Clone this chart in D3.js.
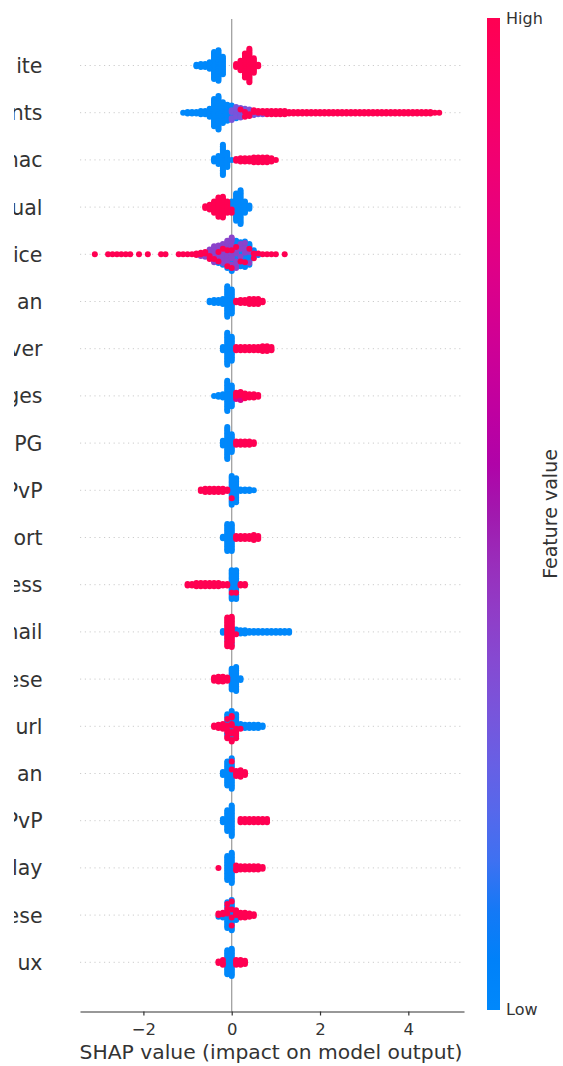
<!DOCTYPE html>
<html>
<head>
<meta charset="utf-8">
<script src="https://cdn.jsdelivr.net/npm/d3@7"></script>
<style>
  html, body { margin: 0; padding: 0; background: #fff; }
  svg { display: block; font-family: "DejaVu Sans", sans-serif; }
</style>
</head>
<body>
<svg id="chart" width="563" height="1066"></svg>
<script>
// Feature names, top to bottom (ordered by mean |SHAP value|)
const features = ["ite", "nts", "mac", "ual", "ice", "an", "ver", "ges", "PG", "PvP",
                  "ort", "ess", "mail", "ese", "url", "an", "PvP", "lay", "ese", "ux"];

// Beeswarm histogram: centre of the first SHAP bin for each feature, bin width 0.1
const binWidth = 0.1;
const binStart = [-0.8, -1.1, -0.4, -0.6, -3.1, -0.5, -0.2, -0.4, -0.2, -0.7,
                  -0.2, -1.0, -0.2, -0.4, -0.4, -0.2, -0.2, -0.3, -0.3, -0.3];

// Number of samples per bin with a low feature value
const lowCounts = [
  [2, 3, 3, 5, 18, 20, 12],
  [1, 2, 2, 2, 3, 3, 6, 18, 22, 14, 11, 6, 3, 1],
  [3, 6, 20, 10, 1],
  [0, 0, 0, 0, 0, 0, 6, 18, 22, 8, 3],
  [0, 0, 0, 0, 0, 0, 0, 0, 0, 0, 0, 0, 0, 0, 0, 0, 0, 0, 0, 0, 0, 0, 0, 0, 0, 0, 0,
   2, 3, 4, 6, 9, 12, 12, 13, 11, 4, 1],
  [2, 3, 3, 4, 20, 16],
  [3, 21, 16],
  [1, 2, 3, 20, 14],
  [4, 21, 12],
  [0, 0, 0, 0, 0, 0, 0, 18, 16, 2, 2, 2, 1],
  [2, 18, 18],
  [0, 0, 0, 0, 0, 0, 0, 0, 0, 0, 18, 18],
  [2, 1, 2, 3, 3, 3, 2, 2, 2, 2, 2, 2, 2, 2, 2, 2],
  [0, 0, 0, 0, 14, 16, 2],
  [0, 0, 1, 10, 12, 12, 3, 3, 3, 3, 3, 2],
  [3, 16, 18],
  [3, 14, 20],
  [0, 0, 16, 20, 1],
  [1, 2, 14, 16, 3],
  [0, 1, 16, 18]
];

// Number of samples per bin with a middling feature value
const midCounts = [
  [],
  [0, 0, 0, 0, 0, 0, 0, 0, 0, 0, 0, 4, 5, 5, 4, 3, 2, 1, 1],
  [],
  [],
  [0, 0, 0, 0, 0, 0, 0, 0, 0, 0, 0, 0, 0, 0, 0, 0, 0, 0, 0, 0, 0, 0, 0, 0,
   1, 2, 5, 8, 7, 9, 10, 11, 5, 3, 3, 2],
  [],
  [],
  [0, 0, 0, 0, 0, 2, 3, 1],
  [], [], [], [], [], [], [], [], [], [], [], []
];

// Feature value used for the middling samples of each feature (0 = low, 1 = high)
const midValue = [0.5, 0.3, 0.5, 0.5, 0.38, 0.5, 0.5, 0.75, 0.5, 0.5,
                  0.5, 0.5, 0.5, 0.5, 0.5, 0.5, 0.5, 0.5, 0.5, 0.5];

// Number of samples per bin with a high feature value
const highCounts = [
  [0, 0, 0, 0, 0, 0, 0, 0, 0, 3, 7, 16, 22, 10, 2],
  [0, 0, 0, 0, 0, 0, 0, 0, 0, 0, 0, 0, 0, 1, 2, 2, 2, 2, 2,
   3, 3, 3, 3, 3, 2, 2, 2, 2, 2, 2, 2, 2, 2, 2, 2, 2, 2, 2, 2,
   2, 2, 2, 2, 2, 2, 2, 2, 2, 2, 2, 2, 2, 2, 2, 2, 2, 2, 1, 1],
  [0, 0, 0, 0, 0, 2, 3, 3, 3, 4, 4, 4, 4, 3, 1],
  [2, 4, 8, 13, 14, 8, 2],
  [1, 0, 0, 1, 1, 1, 1, 1, 1, 0, 1, 0, 1, 0, 0, 1, 1, 0, 0, 1, 1, 1, 1, 2,
   2, 2, 2, 1, 2, 1, 2, 2, 1, 1, 1, 1, 2, 1, 1, 1, 1, 1, 0, 1],
  [0, 0, 0, 0, 0, 0, 2, 3, 3, 4, 4, 4, 2],
  [0, 0, 0, 3, 3, 3, 3, 3, 3, 4, 4, 3],
  [0, 0, 0, 0, 0, 3, 3, 3, 3, 3, 2],
  [0, 0, 0, 3, 3, 3, 3, 2],
  [2, 3, 3, 3, 3, 3, 2, 1],
  [0, 0, 0, 3, 3, 3, 3, 4, 3],
  [2, 2, 3, 3, 3, 3, 3, 3, 2, 2, 1, 1, 2, 2],
  [0, 18, 18, 1],
  [3, 4, 4, 3],
  [2, 3, 3, 6, 8, 4, 1],
  [0, 0, 2, 4, 5, 3],
  [0, 0, 0, 0, 3, 3, 3, 3, 3, 3, 3],
  [1, 0, 0, 0, 3, 3, 3, 3, 3, 3, 2],
  [2, 2, 3, 4, 4, 4, 4, 3, 2],
  [2, 3, 0, 0, 4, 4, 3]
];

const xTicks = [-2, 0, 2, 4];
const xDomain = [-3.436, 5.261];
const xTitle = "SHAP value (impact on model output)";
const colorbarLabels = { high: "High", low: "Low", title: "Feature value" };

// ---------------------------------------------------------------------------
const W = 563, H = 1066;
const plot = { left: 80, right: 464, top: 19, bottom: 1011.5 };
const dotR = 3, stackStep = 1.6;
const textColor = "#333333";

const svg = d3.select("#chart");
svg.append("rect").attr("width", W).attr("height", H).attr("fill", "#fff");

const x = d3.scaleLinear().domain(xDomain).range([plot.left, plot.right]);
const y = d3.scalePoint().domain(d3.range(features.length)).range([65.5, 962.3]);

// Red-blue colormap interpolated in LCh space (blue -> purple -> red)
function featureColor(v) {
  v = Math.max(0, Math.min(1, v));
  const l = v < 0.5 ? 54 + (40 - 54) * (v / 0.5) : 40 + (54 - 40) * ((v - 0.5) / 0.5);
  const c = 70 + 20 * v;
  const h = 266.93 + (380.32 - 266.93) * v;
  return d3.hcl(h % 360, c, l).formatHex();
}

// Light dotted guide for every feature row
svg.append("g").selectAll("line").data(d3.range(features.length)).join("line")
  .attr("x1", plot.left).attr("x2", plot.right)
  .attr("y1", d => y(d)).attr("y2", d => y(d))
  .attr("stroke", "#cccccc").attr("stroke-width", 1)
  .attr("stroke-dasharray", "1.2,3.6");

// Vertical reference line at SHAP = 0
svg.append("line")
  .attr("x1", x(0)).attr("x2", x(0))
  .attr("y1", plot.top).attr("y2", plot.bottom)
  .attr("stroke", "#999999").attr("stroke-width", 1.2);

// Build the stacked dots of each bin; colours are spread evenly through the stack
const groups = [
  { counts: lowCounts, value: () => 0 },
  { counts: midCounts, value: i => midValue[i] },
  { counts: highCounts, value: () => 1 }
];
const dots = [];
features.forEach((f, i) => {
  const nBins = d3.max(groups, g => g.counts[i].length);
  for (let b = 0; b < nBins; b++) {
    const shap = binStart[i] + b * binWidth;
    const seq = [];
    groups.forEach((g, gi) => {
      const n = g.counts[i][b] || 0;
      for (let k = 0; k < n; k++) seq.push({ gi, key: (k + 0.5) / n, v: g.value(i) });
    });
    seq.sort((a, c) => a.key - c.key || a.gi - c.gi);
    const n = seq.length;
    const slots = d3.range(n).map(j => j - (n - 1) / 2)
      .sort((a, c) => Math.abs(a) - Math.abs(c) || c - a);
    seq.forEach((d, j) => dots.push({ row: i, shap, slot: slots[j], gi: d.gi, v: d.v }));
  }
});
dots.sort((a, c) => a.gi - c.gi);

svg.append("g").selectAll("circle").data(dots).join("circle")
  .attr("cx", d => x(d.shap))
  .attr("cy", d => y(d.row) + d.slot * stackStep)
  .attr("r", dotR)
  .attr("fill", d => featureColor(d.v));

// Feature names on the left
svg.append("clipPath").attr("id", "label-clip")
  .append("rect").attr("x", 14).attr("y", 0).attr("width", W).attr("height", H);
svg.append("g").attr("clip-path", "url(#label-clip)")
  .selectAll("text").data(features).join("text")
  .attr("x", 42.5).attr("y", (d, i) => y(i) + 7.5)
  .attr("text-anchor", "end")
  .attr("font-size", 20.5).attr("fill", textColor)
  .text(d => d);

// Bottom axis
const axis = d3.axisBottom(x).tickValues(xTicks)
  .tickSize(4).tickSizeOuter(0).tickPadding(8)
  .tickFormat(d => d < 0 ? "\u2212" + Math.abs(d) : String(d));
const gx = svg.append("g").attr("transform", `translate(0,${plot.bottom})`).call(axis);
gx.attr("font-family", null).attr("font-size", null);
gx.select(".domain").attr("stroke", textColor).attr("stroke-width", 1.2);
gx.selectAll(".tick line").attr("stroke", textColor).attr("stroke-width", 1.2);
gx.selectAll(".tick text").attr("fill", textColor).attr("font-size", 16.5)
  .attr("font-family", "DejaVu Sans, sans-serif");

svg.append("text")
  .attr("x", (plot.left + plot.right) / 2 - 1).attr("y", 1059)
  .attr("text-anchor", "middle").attr("font-size", 20.3).attr("fill", textColor)
  .text(xTitle);

// Colour bar
const cb = { x: 487, y: 18, w: 13, h: 992 };
const grad = svg.append("defs").append("linearGradient")
  .attr("id", "cb-grad").attr("x1", 0).attr("y1", 1).attr("x2", 0).attr("y2", 0);
grad.selectAll("stop").data(d3.range(0, 1.0001, 0.05)).join("stop")
  .attr("offset", d => d).attr("stop-color", d => featureColor(d));
svg.append("rect").attr("x", cb.x).attr("y", cb.y).attr("width", cb.w).attr("height", cb.h)
  .attr("fill", "url(#cb-grad)");

svg.append("text").attr("x", cb.x + cb.w + 6).attr("y", cb.y + 6)
  .attr("font-size", 16).attr("fill", textColor).text(colorbarLabels.high);
svg.append("text").attr("x", cb.x + cb.w + 6).attr("y", cb.y + cb.h + 5)
  .attr("font-size", 16).attr("fill", textColor).text(colorbarLabels.low);
svg.append("text")
  .attr("transform", `translate(557,514) rotate(-90)`)
  .attr("text-anchor", "middle").attr("font-size", 19).attr("fill", textColor)
  .text(colorbarLabels.title);
</script>
</body>
</html>
